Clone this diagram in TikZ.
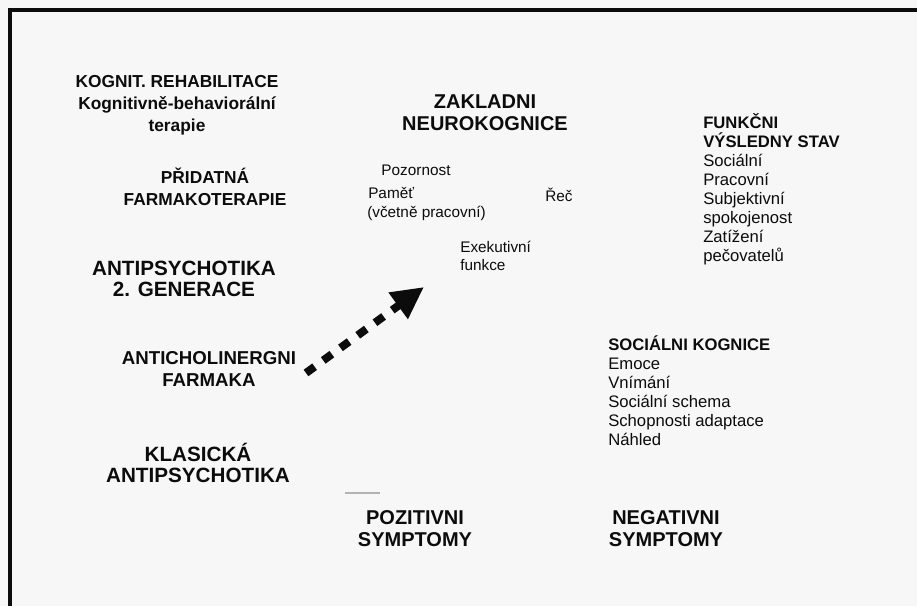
\documentclass[tikz,border=0pt]{standalone}
\usepackage{fontspec}
\setmainfont{Liberation Sans}
\usetikzlibrary{arrows.meta}
\definecolor{paper}{RGB}{247,247,247}
\definecolor{ink}{RGB}{12,12,12}
\begin{document}
\begin{tikzpicture}[x=0.75pt,y=-0.75pt,
  hdL/.style={font=\bfseries\fontsize{13}{16.5}\selectfont, align=center, inner sep=0pt, text=ink},
  hdC/.style={font=\bfseries\fontsize{15}{16.5}\selectfont, align=center, inner sep=0pt, text=ink},
  lst/.style={font=\fontsize{12.5}{14.25}\selectfont, align=left, inner sep=0pt, text=ink, anchor=west},
  reg/.style={font=\fontsize{11.5}{14}\selectfont, inner sep=0pt, text=ink},
  frame/.style={line width=2.4pt, draw=ink},
  bigarrow/.style={draw=ink, line width=6pt, dash pattern=on 8pt off 8pt, -{Triangle[length=24pt,width=23pt]}}
]
\fill[paper] (0,0) rectangle (917,606);
\useasboundingbox (0,0) rectangle (917,606);
\draw[frame] (10,606) -- (10,10) -- (917,10);

% left column
\node[hdL] (rehab) at (177,105) {KOGNIT. REHABILITACE\\Kognitivně-behaviorální\\terapie};
\node[hdL] (pridat) at (205,187) {PŘIDATNÁ\\FARMAKOTERAPIE};
\node[hdL, font=\bfseries\fontsize{15.5}{16}\selectfont] (ap2) at (184,279) {ANTIPSYCHOTIKA\\2. GENERACE};
\node[hdL, font=\bfseries\fontsize{14}{16}\selectfont] (antich) at (209,369) {ANTICHOLINERGNI\\FARMAKA};
\node[hdL, font=\bfseries\fontsize{15.5}{16}\selectfont] (klas) at (198,463) {KLASICKÁ\\ANTIPSYCHOTIKA};

% centre
\node[hdC] (zakl) at (485,113) {ZAKLADNI\\NEUROKOGNICE};
\node[reg] (pozor) at (416,170) {Pozornost};
\node[reg, anchor=west] (pamet) at (368,193) {Paměť};
\node[reg, anchor=west] (rec) at (545,195) {Řeč};
\node[reg, anchor=west] (vcet) at (367,213) {(včetně pracovní)};
\node[reg, anchor=west, align=left, font=\fontsize{11.5}{13.5}\selectfont] (exek) at (460,256) {Exekutivní\\funkce};

% right column
\node[lst] (funk) at (703,189.5) {\textbf{FUNKČNI}\\\textbf{VÝSLEDNY STAV}\\Sociální\\Pracovní\\Subjektivní\\spokojenost\\Zatížení\\pečovatelů};
\node[lst] (soc) at (608,390.5) {\textbf{SOCIÁLNI KOGNICE}\\Emoce\\Vnímání\\Sociální schema\\Schopnosti adaptace\\Náhled};

% bottom
\node[hdC] (poz) at (415,529) {POZITIVNI\\SYMPTOMY};
\node[hdC] (neg) at (666,529) {NEGATIVNI\\SYMPTOMY};

% arrow
\coordinate (arrS) at (306,373);
\coordinate (arrE) at (424,287);
\draw[bigarrow] (arrS) -- (arrE);
\draw[gray!60, line width=1pt] (345,493) -- (380,493);
\end{tikzpicture}
\end{document}
